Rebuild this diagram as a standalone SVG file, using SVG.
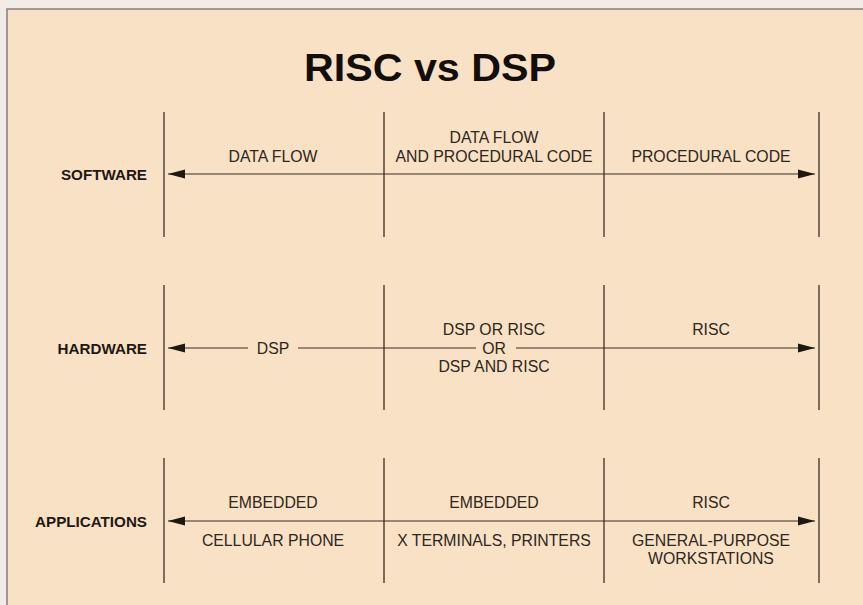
<svg xmlns="http://www.w3.org/2000/svg" width="863" height="605" viewBox="0 0 863 605">
  <style>
    .lbl { font-family: "Liberation Sans", Arial, sans-serif; font-size: 15.8px; fill: #2e2620; text-anchor: middle; }
    .row { font-family: "Liberation Sans", Arial, sans-serif; font-size: 15.2px; font-weight: bold; fill: #1e1814; text-anchor: end; }
    .title { font-family: "Liberation Sans", Arial, sans-serif; font-size: 38px; font-weight: bold; fill: #120e0c; text-anchor: middle; }
    .div { stroke: #3b2e26; stroke-width: 1.3; fill: none; }
    .arr { stroke: #3b2e26; stroke-width: 1.2; fill: none; }
  </style>
  <defs>
    <marker id="head" markerUnits="userSpaceOnUse" markerWidth="17" markerHeight="10" refX="17" refY="5" orient="auto-start-reverse">
      <path d="M0,0.5 L17,5 L0,9.5 z" fill="#1e1814"/>
    </marker>
  </defs>
  <rect x="0" y="0" width="863" height="605" fill="#f1ede6"/>
  <rect x="7" y="9" width="860" height="600" fill="#f8e1c4" stroke="#8a7e76" stroke-width="1.5"/>
  <text class="title" x="430" y="81" textLength="252" lengthAdjust="spacingAndGlyphs">RISC vs DSP</text>

  <g id="dividers">
    <line class="div" x1="164" y1="112" x2="164" y2="237"/>
    <line class="div" x1="384" y1="112" x2="384" y2="237"/>
    <line class="div" x1="604" y1="112" x2="604" y2="237"/>
    <line class="div" x1="819" y1="112" x2="819" y2="237"/>
    <line class="div" x1="164" y1="285" x2="164" y2="410"/>
    <line class="div" x1="384" y1="285" x2="384" y2="410"/>
    <line class="div" x1="604" y1="285" x2="604" y2="410"/>
    <line class="div" x1="819" y1="285" x2="819" y2="410"/>
    <line class="div" x1="164" y1="458" x2="164" y2="583"/>
    <line class="div" x1="384" y1="458" x2="384" y2="583"/>
    <line class="div" x1="604" y1="458" x2="604" y2="583"/>
    <line class="div" x1="819" y1="458" x2="819" y2="583"/>
  </g>

  <g id="connectors">
    <line class="arr" x1="168" y1="174" x2="815" y2="174" marker-start="url(#head)" marker-end="url(#head)"/>
    <line class="arr" x1="168" y1="348" x2="248" y2="348" marker-start="url(#head)"/>
    <line class="arr" x1="298" y1="348" x2="476" y2="348"/>
    <line class="arr" x1="516" y1="348" x2="815" y2="348" marker-end="url(#head)"/>
    <line class="arr" x1="168" y1="521" x2="815" y2="521" marker-start="url(#head)" marker-end="url(#head)"/>
  </g>

  <g id="software">
    <text class="row" x="147" y="180">SOFTWARE</text>
    <text class="lbl" x="273" y="162">DATA FLOW</text>
    <text class="lbl" x="494" y="143">DATA FLOW</text>
    <text class="lbl" x="494" y="162">AND PROCEDURAL CODE</text>
    <text class="lbl" x="711" y="162">PROCEDURAL CODE</text>
  </g>

  <g id="hardware">
    <text class="row" x="147" y="353.5">HARDWARE</text>
    <text class="lbl" x="273" y="353.5">DSP</text>
    <text class="lbl" x="494" y="335">DSP OR RISC</text>
    <text class="lbl" x="494" y="353.5">OR</text>
    <text class="lbl" x="494" y="372">DSP AND RISC</text>
    <text class="lbl" x="711" y="335">RISC</text>
  </g>

  <g id="applications">
    <text class="row" x="147" y="527">APPLICATIONS</text>
    <text class="lbl" x="273" y="508">EMBEDDED</text>
    <text class="lbl" x="273" y="546">CELLULAR PHONE</text>
    <text class="lbl" x="494" y="508">EMBEDDED</text>
    <text class="lbl" x="494" y="546">X TERMINALS, PRINTERS</text>
    <text class="lbl" x="711" y="508">RISC</text>
    <text class="lbl" x="711" y="546">GENERAL-PURPOSE</text>
    <text class="lbl" x="711" y="564">WORKSTATIONS</text>
  </g>
</svg>
